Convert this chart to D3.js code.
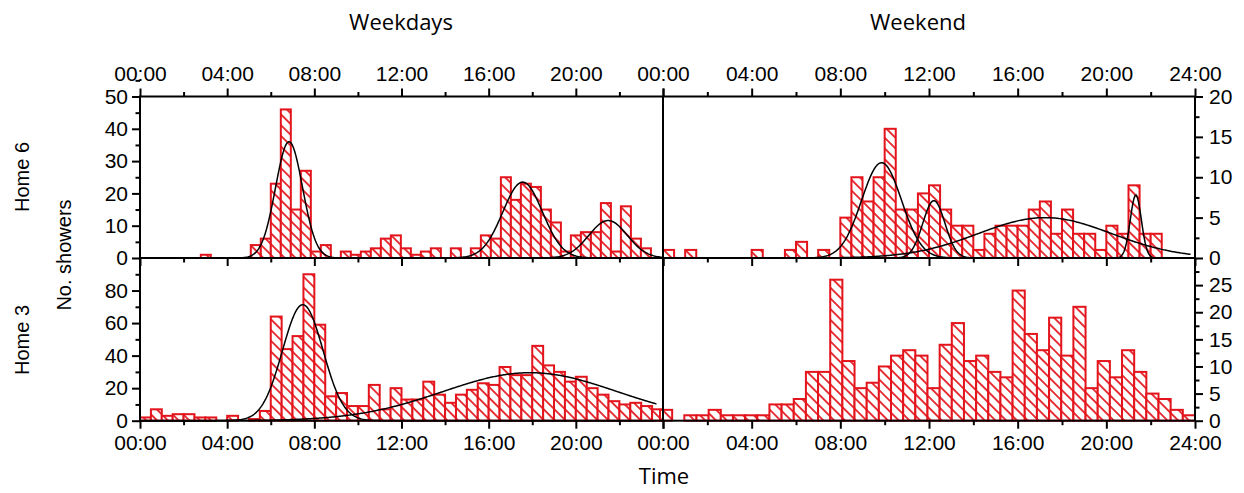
<!DOCTYPE html>
<html>
<head>
<meta charset="utf-8">
<title>Showers by time of day</title>
<script src="https://cdnjs.cloudflare.com/ajax/libs/d3/7.8.5/d3.min.js"></script>
<style>
	body{ margin:0; background:#fff; }
	svg text{ font-family:"Liberation Sans", Arial, sans-serif; fill:#000; }
	svg text.title{ font-family:"Open Sans", sans-serif; }
</style>
</head>
<body>
<div id="chart"></div>
<script>

// Counts per time bin (hours for bin start / width)
var home6WeekdayCounts = [1,0,0,0,0,4,6,23,46,15,27,2,4,0,2,1,2,3,6,7,3,1,2,3,0,3,0,3,7,6,25,18,23,22,15,11,2,7,8,8,17,2,16,6,3];
var home6WeekdayBin = [2.79, 0.459];

var home6WeekendCounts = [1,0,1,0,0,0,0,0,1,0,0,1,2,0,1,0,5,10,7,10,16,6,6,8,9,6,4,4,1,3,4,4,4,6,7,3,6,3,3,1,4,3,9,3,3];
var home6WeekendBin = [0, 0.5];

var home3WeekdayCounts = [2,7,3,4,4,2,2,0,3,0,1,6,64,44,52,90,59,15,17,9,9,22,7,20,13,13,24,16,11,16,19,23,22,33,28,28,46,34,30,24,27,20,16,12,10,11,9,7];
var home3WeekdayBin = [0, 0.5];

var home3WeekendCounts = [2,0,1,1,2,1,1,1,1,3,3,4,9,9,26,11,6,7,10,12,13,12,6,14,18,11,12,9,8,24,16,13,19,12,21,6,11,8,13,9,5,4,2,1];
var home3WeekendBin = [-0.135, 0.5485];

// Fitted peaks: [centre hour, height, sd hours]
var home6WeekdayFit = [[6.84, 36, 0.62], [17.56, 23.5, 0.91], [21.48, 11.6, 0.88]];
var home6WeekendFit = [[9.86, 11.8, 0.9], [12.22, 7.1, 0.5], [17.23, 5.0, 3.0], [21.33, 7.8, 0.25]];
var home3WeekdayFit = [[7.47, 71.3, 0.93], [17.9, 29.5, 4.0]];

// Axis ticks and labels
var hourTicks = [0, 4, 8, 12, 16, 20, 24];
var hourMinorTicks = [2, 6, 10, 14, 18, 22];
var hourLabels = ["00:00", "04:00", "08:00", "12:00", "16:00", "20:00", "24:00"];
var home6WeekdayTicks = [0, 10, 20, 30, 40, 50];
var home6WeekendTicks = [0, 5, 10, 15, 20];
var home3WeekdayTicks = [0, 20, 40, 60, 80];
var home3WeekendTicks = [0, 5, 10, 15, 20, 25];

var chart = {};

(function(){

	chart.red = "#e3141b";
	chart.left = 140;
	chart.mid = 663;
	chart.right = 1195;
	chart.top = 96.5;
	chart.row = 258;
	chart.bottom = 420.7;

	var svg = d3.select("#chart").append("svg")
		.attr("width", 1244)
		.attr("height", 493);

	// hatch used by every bar
	var hatch = svg.append("defs").append("pattern")
		.attr("id", "hatch")
		.attr("patternUnits", "userSpaceOnUse")
		.attr("width", 7.6)
		.attr("height", 7.6)
		.attr("patternTransform", "rotate(-45)");
	hatch.append("rect").attr("width", 7.6).attr("height", 7.6).attr("fill", "#fff");
	hatch.append("line")
		.attr("x1", 3.8).attr("y1", 0).attr("x2", 3.8).attr("y2", 7.6)
		.attr("stroke", chart.red)
		.attr("stroke-width", 1.7);

	// Class Panel
	function Panel(xRange, yDomain, yRange){
		var self = this;
		self.x = d3.scaleLinear().domain([0, 24]).range(xRange);
		self.y = d3.scaleLinear().domain(yDomain).range(yRange);
		self.g = svg.append("g");
	}

	Panel.prototype.drawBars = function(counts, bin){
		var self = this;
		var y0 = self.y(0);
		self.g.selectAll("rect.bar")
			.data(counts.map(function(c, i){ return {i: i, c: c}; }).filter(function(d){ return d.c > 0; }))
			.enter().append("rect")
			.attr("class", "bar")
			.attr("x", function(d){ return self.x(bin[0] + d.i * bin[1]); })
			.attr("width", function(d){ return self.x(bin[0] + (d.i + 1) * bin[1]) - self.x(bin[0] + d.i * bin[1]); })
			.attr("y", function(d){ return self.y(d.c); })
			.attr("height", function(d){ return y0 - self.y(d.c); })
			.attr("fill", "url(#hatch)")
			.attr("stroke", chart.red)
			.attr("stroke-width", 2);
	};

	Panel.prototype.drawFits = function(fits, from, to){
		var self = this;
		var line = d3.line()
			.x(function(p){ return self.x(p[0]); })
			.y(function(p){ return self.y(p[1]); });
		fits.forEach(function(f){
			var pts = d3.range(from, to + 0.001, 0.05).map(function(t){
				var z = (t - f[0]) / f[2];
				return [t, f[1] * Math.exp(-0.5 * z * z)];
			});
			self.g.append("path")
				.attr("d", line(pts))
				.attr("fill", "none")
				.attr("stroke", "#000")
				.attr("stroke-width", 1.5);
		});
	};

	// generic axis drawing, major + minor ticks
	Panel.prototype.axis = function(axisFn, scale, pos, major, minor, labels, pad){
		var self = this;
		var g = self.g.append("g").attr("transform", pos);
		var a = axisFn(scale).tickValues(major).tickSize(8).tickSizeOuter(0).tickPadding(pad);
		a.tickFormat(labels ? function(d, i){ return labels[i]; } : function(){ return ""; });
		g.call(a);
		var m = self.g.append("g").attr("transform", pos)
			.call(axisFn(scale).tickValues(minor).tickSize(4.5).tickSizeOuter(0).tickFormat(function(){ return ""; }));
		[g, m].forEach(function(s){
			s.select(".domain").remove();
			s.selectAll("line").attr("stroke", "#000").attr("stroke-width", 2);
			s.selectAll("text").attr("font-size", 21).attr("fill", "#000");
		});
	};

	function minorsOf(ticks){
		var step = ticks[1] - ticks[0], out = [];
		for(var v = step / 2; v < ticks[ticks.length - 1] + step; v += step){ out.push(v); }
		return out;
	}

	var xL = [chart.left, chart.mid], xR = [chart.mid, chart.right];

	var p6wd = new Panel(xL, [0, 50], [chart.row, chart.top]);
	var p6we = new Panel(xR, [0, 20], [chart.row, chart.top]);
	var p3wd = new Panel(xL, [0, 100], [chart.bottom, chart.row]);
	var p3we = new Panel(xR, [0, 30], [chart.bottom, chart.row]);

	p6wd.drawBars(home6WeekdayCounts, home6WeekdayBin);
	p6we.drawBars(home6WeekendCounts, home6WeekendBin);
	p3wd.drawBars(home3WeekdayCounts, home3WeekdayBin);
	p3we.drawBars(home3WeekendCounts, home3WeekendBin);

	p6wd.drawFits(home6WeekdayFit, 0, 24);
	p6we.drawFits(home6WeekendFit, 0, 23.8);
	p3wd.drawFits(home3WeekdayFit, 0, 23.7);

	// time axes: top row gets labels above, bottom row below
	var leftLabels = hourLabels.slice(0, 6);
	[[p6wd, leftLabels, hourTicks.slice(0, 6)], [p6we, hourLabels, hourTicks]].forEach(function(r){
		r[0].axis(d3.axisTop, r[0].x, "translate(0," + chart.top + ")", r[2], hourMinorTicks, r[1], 8);
		r[0].axis(d3.axisBottom, r[0].x, "translate(0," + chart.row + ")", hourTicks, hourMinorTicks, null, 4);
	});
	[[p3wd, leftLabels, hourTicks.slice(0, 6)], [p3we, hourLabels, hourTicks]].forEach(function(r){
		r[0].axis(d3.axisBottom, r[0].x, "translate(0," + chart.bottom + ")", r[2], hourMinorTicks, r[1], 6);
	});
	// the left panels still need a tick at 24h
	p3wd.axis(d3.axisBottom, p3wd.x, "translate(0," + chart.bottom + ")", [24], [], null, 4);
	p6wd.axis(d3.axisTop, p6wd.x, "translate(0," + chart.top + ")", [24], [], null, 4);

	// count axes
	p6wd.axis(d3.axisLeft, p6wd.y, "translate(" + chart.left + ",0)", home6WeekdayTicks, minorsOf(home6WeekdayTicks), home6WeekdayTicks, 4);
	p3wd.axis(d3.axisLeft, p3wd.y, "translate(" + chart.left + ",0)", home3WeekdayTicks, minorsOf(home3WeekdayTicks), home3WeekdayTicks, 4);
	p6we.axis(d3.axisRight, p6we.y, "translate(" + chart.right + ",0)", home6WeekendTicks, minorsOf(home6WeekendTicks).filter(function(v){ return v < 20; }), home6WeekendTicks, 6);
	p3we.axis(d3.axisRight, p3we.y, "translate(" + chart.right + ",0)", home3WeekendTicks, minorsOf(home3WeekendTicks), home3WeekendTicks, 6);

	// frame
	var frame = svg.append("g").attr("stroke", "#000").attr("stroke-width", 2).attr("fill", "none");
	frame.append("rect")
		.attr("x", chart.left).attr("y", chart.top)
		.attr("width", chart.right - chart.left).attr("height", chart.bottom - chart.top);
	frame.append("line").attr("x1", chart.left).attr("x2", chart.right).attr("y1", chart.row).attr("y2", chart.row);
	frame.append("line").attr("x1", chart.mid).attr("x2", chart.mid).attr("y1", chart.top).attr("y2", chart.bottom);

	// titles and labels
	svg.append("text").attr("class", "title").attr("x", 401).attr("y", 30)
		.attr("text-anchor", "middle").attr("font-size", 22).text("Weekdays");
	svg.append("text").attr("class", "title").attr("x", 918).attr("y", 30)
		.attr("text-anchor", "middle").attr("font-size", 22).text("Weekend");
	svg.append("text").attr("class", "title").attr("x", 664).attr("y", 484)
		.attr("text-anchor", "middle").attr("font-size", 22).text("Time");

	svg.append("text").attr("transform", "translate(29,177) rotate(-90)")
		.attr("text-anchor", "middle").attr("font-size", 20).text("Home 6");
	svg.append("text").attr("transform", "translate(29,340) rotate(-90)")
		.attr("text-anchor", "middle").attr("font-size", 20).text("Home 3");
	svg.append("text").attr("transform", "translate(71,255) rotate(-90)")
		.attr("text-anchor", "middle").attr("font-size", 20).text("No. showers");

})();
</script>
</body>
</html>
